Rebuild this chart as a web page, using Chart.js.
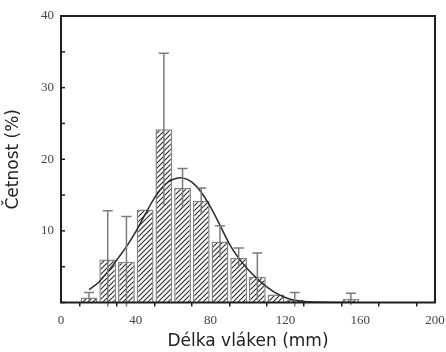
<!DOCTYPE html>
<html>
<head>
<meta charset="utf-8">
<script src="https://cdn.jsdelivr.net/npm/chart.js@4.4.1/dist/chart.umd.min.js"></script>
<style>
  html, body { margin: 0; padding: 0; background: #fff; }
  #wrap { width: 446px; height: 352px; }
</style>
</head>
<body>
<div id="wrap"><canvas id="histChart" width="446" height="352"></canvas></div>
<script>
// histogram bins (centre of 10 mm bin), value %, error bar (+/-)
const binCenters = [15, 25, 35, 45, 55, 65, 75, 85, 95, 105, 115, 125, 155];
const binValues  = [0.7, 6.0, 5.7, 13.0, 24.2, 16.0, 14.2, 8.5, 6.2, 3.6, 1.1, 0.4, 0.5];
const binErrors  = [0.7, 6.8, 6.3, 0, 10.6, 2.7, 1.8, 2.2, 1.4, 3.3, 0, 1.0, 0.8];

// fitted curve
const fitX = [15, 20, 25, 30, 35, 40, 45, 50, 55, 60, 65, 70, 75, 80, 85, 90, 95, 100, 105, 110, 115, 120, 125, 130, 140, 158];
const fitY = [1.8, 2.8, 4.3, 6.0, 7.8, 9.9, 12.3, 14.6, 16.3, 17.2, 17.4, 16.8, 15.4, 13.3, 10.8, 8.2, 6.2, 4.6, 3.3, 2.2, 1.3, 0.7, 0.3, 0.15, 0.05, 0];

const xLabels = [0, 40, 80, 120, 160, 200];
const yLabels = [10, 20, 30, 40];

// --- hatch pattern ---
function makeHatch() {
  const s = 5;
  const c = document.createElement('canvas');
  c.width = s; c.height = s;
  const g = c.getContext('2d');
  g.fillStyle = '#fff';
  g.fillRect(0, 0, s, s);
  g.strokeStyle = '#2e2e2e';
  g.lineWidth = 1.15;
  g.beginPath();
  g.moveTo(-1, s + 1); g.lineTo(s + 1, -1);
  g.moveTo(-1, 1); g.lineTo(1, -1);
  g.moveTo(s - 1, s + 1); g.lineTo(s + 1, s - 1);
  g.stroke();
  return g.createPattern(c, 'repeat');
}

// --- error bars, inward y ticks, frame ---
const extras = {
  id: 'extras',
  afterDatasetsDraw(chart) {
    const ctx = chart.ctx;
    const xs = chart.scales.x, ys = chart.scales.y;
    const area = chart.chartArea;
    ctx.save();
    ctx.strokeStyle = '#7c7c7c';
    ctx.lineWidth = 1.5;
    binCenters.forEach((c, i) => {
      const e = binErrors[i];
      if (!e) return;
      const x = xs.getPixelForValue(c);
      const yTop = ys.getPixelForValue(binValues[i] + e);
      const yBot = Math.min(ys.getPixelForValue(binValues[i] - e), area.bottom + 4);
      ctx.beginPath();
      ctx.moveTo(x, yBot); ctx.lineTo(x, yTop);
      ctx.moveTo(x - 5, yTop); ctx.lineTo(x + 5, yTop);
      ctx.stroke();
    });
    ctx.restore();
  },
  afterDraw(chart) {
    const ctx = chart.ctx;
    const ys = chart.scales.y;
    const a = chart.chartArea;
    ctx.save();
    ctx.strokeStyle = '#1e1e1e';
    ctx.lineWidth = 1.5;
    ys.ticks.forEach(t => {
      const y = ys.getPixelForValue(t.value);
      ctx.beginPath();
      ctx.moveTo(a.left, y); ctx.lineTo(a.left + 4, y);
      ctx.stroke();
    });
    ctx.lineWidth = 2;
    ctx.strokeRect(a.left, a.top, a.right - a.left, a.bottom - a.top);
    ctx.restore();
  }
};

const tickFont = { family: '"Liberation Serif", serif', size: 13 };
const titleFont = { family: '"DejaVu Sans", sans-serif', size: 17 };

new Chart(document.getElementById('histChart'), {
  type: 'bar',
  data: {
    datasets: [
      {
        type: 'line',
        data: fitX.map((x, i) => ({ x: x, y: fitY[i] })),
        borderColor: '#2a2a2a',
        borderWidth: 1.5,
        pointRadius: 0,
        tension: 0.4,
        fill: false,
        order: 0
      },
      {
        type: 'bar',
        data: binCenters.map((x, i) => ({ x: x, y: binValues[i] })),
        backgroundColor: makeHatch(),
        borderColor: '#858585',
        borderWidth: 1.5,
        barPercentage: 0.9,
        categoryPercentage: 1,
        order: 1
      }
    ]
  },
  plugins: [extras],
  options: {
    responsive: false,
    animation: false,
    layout: { padding: { top: 16, right: 11, left: 3, bottom: 0 } },
    plugins: { legend: { display: false }, tooltip: { enabled: false } },
    scales: {
      x: {
        type: 'linear',
        min: 0, max: 200,
        offset: false,
        border: { display: false },
        grid: { display: true, drawOnChartArea: false, drawTicks: true, tickLength: 4, color: '#1e1e1e', lineWidth: 1.5 },
        ticks: {
          stepSize: 20,
          maxRotation: 0,
          padding: 6,
          color: '#444',
          font: tickFont,
          callback: (v) => xLabels.includes(v) ? String(v) : ''
        },
        title: { display: true, text: 'Délka vláken (mm)', color: '#222', font: titleFont, padding: { top: 0, bottom: 0 } },
        afterFit: (s) => { s.height = 49.5; s.paddingRight = 0; s.paddingLeft = 0; }
      },
      y: {
        min: 0, max: 40,
        border: { display: false },
        grid: { display: false, drawTicks: false },
        ticks: {
          stepSize: 5,
          padding: 7,
          color: '#444',
          font: tickFont,
          callback: (v) => yLabels.includes(v) ? String(v) : ''
        },
        title: { display: true, text: 'Četnost (%)', color: '#222', font: titleFont, padding: { top: 0, bottom: 4 } },
        afterFit: (s) => { s.width = 58; s.paddingTop = 0; s.paddingBottom = 0; }
      }
    }
  }
});
</script>
</body>
</html>
